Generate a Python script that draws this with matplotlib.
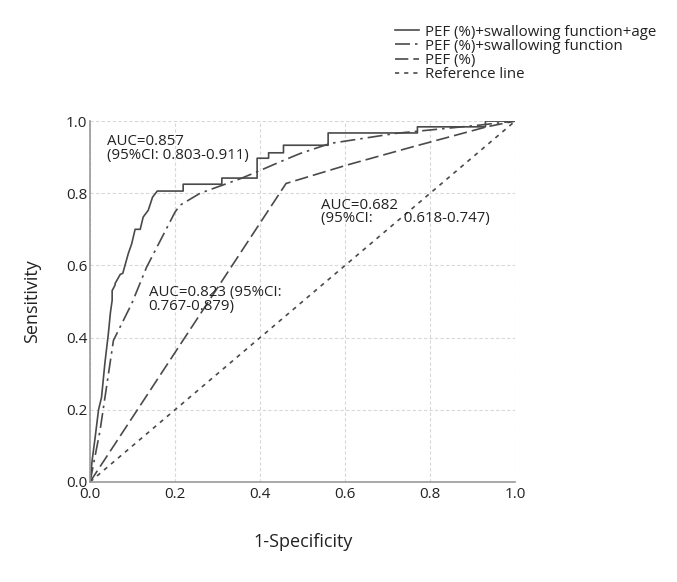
import matplotlib
matplotlib.use("Agg")
import matplotlib.pyplot as plt

plt.rcParams["font.family"] = ["Open Sans", "DejaVu Sans"]

# PEF (%) + swallowing function + age (stepwise ROC)
fpr_full = [0.0, 0.005, 0.012, 0.02, 0.027, 0.035, 0.043, 0.048, 0.052, 0.052, 0.059,
            0.059, 0.071, 0.077, 0.09, 0.098, 0.106, 0.118, 0.125, 0.137, 0.147,
            0.147, 0.158, 0.158, 0.219, 0.219, 0.31, 0.31, 0.393, 0.393, 0.42,
            0.42, 0.455, 0.455, 0.56, 0.56, 0.77, 0.77, 0.93, 0.93, 1.0]
tpr_full = [0.0, 0.06, 0.123, 0.2, 0.234, 0.33, 0.41, 0.47, 0.503, 0.53, 0.546,
            0.55, 0.575, 0.578, 0.633, 0.66, 0.7, 0.7, 0.734, 0.753, 0.789,
            0.789, 0.806, 0.806, 0.806, 0.825, 0.825, 0.842, 0.842, 0.897, 0.897,
            0.912, 0.912, 0.933, 0.933, 0.967, 0.967, 0.984, 0.984, 1.0, 1.0]

# PEF (%) + swallowing function
fpr_swal = [0.0, 0.0235, 0.055, 0.098, 0.133, 0.2, 0.212, 0.259, 0.306, 0.353,
            0.392, 0.447, 0.494, 0.565, 0.72, 0.918, 1.0]
tpr_swal = [0.0, 0.142, 0.392, 0.494, 0.595, 0.748, 0.767, 0.8, 0.82, 0.84,
            0.859, 0.887, 0.91, 0.938, 0.966, 0.989, 1.0]

# PEF (%)
fpr_pef = [0.0, 0.461, 0.604, 0.76, 0.933, 1.0]
tpr_pef = [0.0, 0.827, 0.878, 0.929, 0.984, 1.0]

ref = [0.0, 1.0]

labels = ["PEF (%)+swallowing function+age", "PEF (%)+swallowing function",
          "PEF (%)", "Reference line"]

fig = plt.figure(figsize=(6.77, 5.82), dpi=100)
ax = fig.add_axes([0.133, 0.172, 0.628, 0.620])

c = "#4a4a4a"
ax.plot(fpr_full, tpr_full, color=c, lw=1.2, label=labels[0])
ax.plot(fpr_swal, tpr_swal, color=c, lw=1.2, dashes=(9, 3, 1.5, 3), label=labels[1])
ax.plot(fpr_pef, tpr_pef, color=c, lw=1.2, dashes=(8, 3), label=labels[2])
ax.plot(ref, ref, color=c, lw=1.2, dashes=(2.5, 3), label=labels[3])

ax.set_xlim(0, 1)
ax.set_ylim(0, 1)
ax.set_xticks([0, 0.2, 0.4, 0.6, 0.8, 1.0])
ax.set_yticks([0, 0.2, 0.4, 0.6, 0.8, 1.0])
ax.xaxis.set_major_formatter(matplotlib.ticker.FormatStrFormatter("%.1f"))
ax.yaxis.set_major_formatter(matplotlib.ticker.FormatStrFormatter("%.1f"))
ax.grid(True, color="#d8d8d8", linestyle=(0, (3, 2)), lw=0.8)
ax.set_axisbelow(True)
for s in ["top", "right"]:
    ax.spines[s].set_visible(False)
for s in ["left", "bottom"]:
    ax.spines[s].set_color("#999999")
    ax.spines[s].set_linewidth(1.2)
ax.tick_params(axis="both", length=0, labelsize=11, colors="#222222")
ax.tick_params(axis="x", pad=4)
ax.tick_params(axis="y", pad=2)

ax.set_xlabel("1-Specificity", fontsize=13, labelpad=22, color="#222222")
ax.set_ylabel("Sensitivity", fontsize=13, labelpad=18, color="#222222")

ax.text(0.04, 0.963, "AUC=0.857\n(95%CI: 0.803-0.911)", fontsize=10.8,
        va="top", ha="left", linespacing=0.9, color="#222222")
ax.text(0.138, 0.545, "AUC=0.823 (95%CI:\n0.767-0.879)", fontsize=10.8,
        va="top", ha="left", linespacing=0.9, color="#222222")
ax.text(0.543, 0.788, "AUC=0.682\n(95%CI:        0.618-0.747)", fontsize=10.8,
        va="top", ha="left", linespacing=0.9, color="#222222")

leg = ax.legend(loc="upper left", bbox_to_anchor=(0.70, 1.288), frameon=False,
                fontsize=10.8, handlelength=1.6, handletextpad=0.4,
                labelspacing=-0.06, borderpad=0)
for t in leg.get_texts():
    t.set_color("#222222")

fig.savefig("out.png", dpi=100)
